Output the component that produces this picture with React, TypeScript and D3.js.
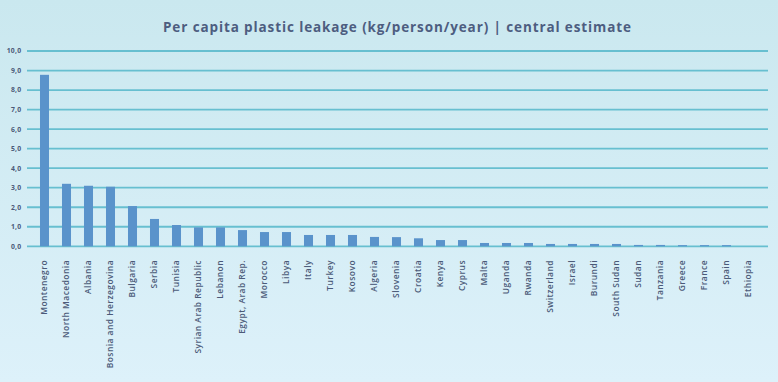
import React from "react";
import * as d3 from "d3";

const countries = [
  "Montenegro", "North Macedonia", "Albania", "Bosnia and Herzegovina", "Bulgaria",
  "Serbia", "Tunisia", "Syrian Arab Republic", "Lebanon", "Egypt, Arab Rep.",
  "Morocco", "Libya", "Italy", "Turkey", "Kosovo", "Algeria", "Slovenia", "Croatia",
  "Kenya", "Cyprus", "Malta", "Uganda", "Rwanda", "Switzerland", "Israel", "Burundi",
  "South Sudan", "Sudan", "Tanzania", "Greece", "France", "Spain", "Ethiopia",
];
const values = [
  8.78, 3.2, 3.1, 3.05, 2.06,
  1.4, 1.09, 0.97, 0.97, 0.83,
  0.73, 0.73, 0.58, 0.58, 0.58, 0.48, 0.47, 0.41,
  0.32, 0.32, 0.17, 0.17, 0.17, 0.12, 0.12, 0.12,
  0.12, 0.07, 0.07, 0.06, 0.06, 0.06, 0,
];
const yTicks = [0, 1, 2, 3, 4, 5, 6, 7, 8, 9, 10];
const title = "Per capita plastic leakage (kg/person/year) | central estimate";

const W = 778;
const H = 382;

export default function App() {
  const x = d3.scaleBand<string>().domain(countries).range([33.5, 759.5]).paddingInner(0.59).paddingOuter(0.295);
  const y = d3.scaleLinear().domain([0, 10]).range([246.3, 51]);
  const fmt = (v: number) => v.toFixed(1).replace(".", ",");
  const font = "'Open Sans', 'DejaVu Sans', sans-serif";
  return (
    <svg width={W} height={H} style={{ position: "absolute", left: 0, top: 0 }} fontFamily={font}>
      <defs>
        <linearGradient id="bg" x1="0" y1="0" x2="0" y2="1">
          <stop offset="0" stopColor="#cae8ef" />
          <stop offset="1" stopColor="#ddf1fa" />
        </linearGradient>
      </defs>
      <rect x={0} y={0} width={W} height={H} fill="url(#bg)" />
      <text x={163} y={32.3} textLength={468} lengthAdjust="spacing" fontSize={13.5} fontWeight={700} fill="#4d5d80">
        {title}
      </text>
      {yTicks.map((t) => (
        <g key={t}>
          <line x1={27} x2={768} y1={y(t)} y2={y(t)} stroke="#67bfd0" strokeWidth={1.8} />
          <text x={21.5} y={y(t)} dy="0.35em" textAnchor="end" fontSize={6.8} fontWeight={700} letterSpacing={0.3} fill="#4b5a78">
            {fmt(t)}
          </text>
        </g>
      ))}
      {countries.map((c, i) => (
        <rect
          key={c}
          x={x(c)!}
          width={x.bandwidth()}
          y={y(values[i])}
          height={y(0) - y(values[i])}
          fill="#5a93cb"
        />
      ))}
      {countries.map((c) => {
        const cx = x(c)! + x.bandwidth() / 2 + 2.8;
        return (
          <text
            key={c}
            transform={`translate(${cx},260) rotate(-90)`}
            textAnchor="end"
            fontSize={8.4}
            fontWeight={600}
            letterSpacing={0.5}
            fill="#4b5a78"
          >
            {c}
          </text>
        );
      })}
    </svg>
  );
}
